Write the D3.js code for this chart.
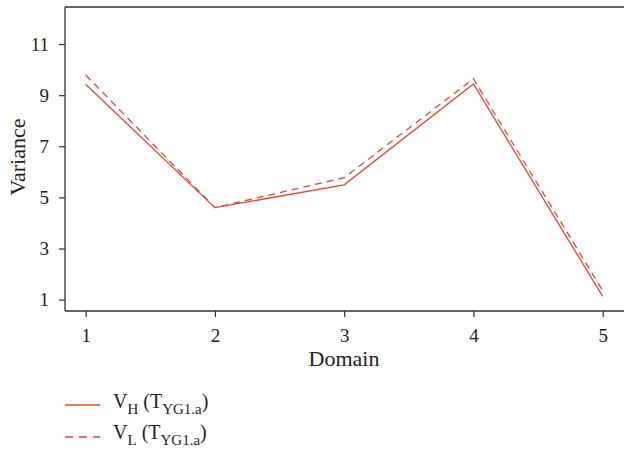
<!DOCTYPE html>
<html><head><meta charset="utf-8">
<script src="https://cdn.jsdelivr.net/npm/d3@7"></script>
<style>
html,body{margin:0;padding:0;background:#fff;}
text{font-family:"Liberation Serif","Times New Roman",serif;fill:#222;}
</style></head>
<body><svg id="c" width="624" height="451"></svg>
<script>
const domains = [1, 2, 3, 4, 5];
const vH = [9.43, 4.6, 5.49, 9.44, 1.13];
const vL = [9.79, 4.6, 5.77, 9.64, 1.35];
const yTicks = [1, 3, 5, 7, 9, 11];
const xTicks = [1, 2, 3, 4, 5];
const color = "#e8452e";

const svg = d3.select("#c");
const W = 624, H = 451;
const m = {left: 65, top: 7, right: 0, bottom: 140};
const x = d3.scaleLinear().domain([0.84, 5.165]).range([m.left, W - m.right]);
const y = d3.scaleLinear().domain([0.555, 12.45]).range([H - m.bottom, m.top]);

// top border
svg.append("line").attr("x1", m.left).attr("x2", W).attr("y1", m.top).attr("y2", m.top)
  .attr("stroke", "#333").attr("stroke-width", 1.3);

const xa = svg.append("g").attr("transform", `translate(0,${H - m.bottom})`)
  .call(d3.axisBottom(x).tickValues(xTicks).tickFormat(d3.format("d")).tickSizeOuter(0).tickSize(6).tickPadding(12));
const ya = svg.append("g").attr("transform", `translate(${m.left},0)`)
  .call(d3.axisLeft(y).tickValues(yTicks).tickFormat(d3.format("d")).tickSizeOuter(0).tickSize(6).tickPadding(10));
[xa, ya].forEach(g => {
  g.select(".domain").attr("stroke", "#333").attr("stroke-width", 1.3);
  g.selectAll(".tick line").attr("stroke", "#333").attr("stroke-width", 1.2);
  g.selectAll("text").attr("font-size", 19).attr("font-family", "Liberation Serif").attr("fill", "#222");
});
xa.select(".domain").attr("d", `M${m.left},0H${W}`);
ya.select(".domain").attr("d", `M0,${m.top}V${H - m.bottom}`);

const line = d3.line().x((d, i) => x(domains[i])).y(d => y(d));
svg.append("path").datum(vH).attr("d", line).attr("fill", "none")
  .attr("stroke", color).attr("stroke-width", 1.3);
svg.append("path").datum(vL).attr("d", line).attr("fill", "none")
  .attr("stroke", color).attr("stroke-width", 1.3).attr("stroke-dasharray", "7,5");

svg.append("text").attr("x", 344).attr("y", 366).attr("text-anchor", "middle")
  .attr("font-size", 22).text("Domain");
svg.append("text").attr("transform", "translate(25,157) rotate(-90)").attr("text-anchor", "middle")
  .attr("font-size", 22).text("Variance");

// legend
const leg = [{sub: "H", dash: null, y: 405, base: 408}, {sub: "L", dash: "8,6", y: 437, base: 439}];
leg.forEach(l => {
  svg.append("line").attr("x1", 65).attr("x2", 100).attr("y1", l.y).attr("y2", l.y)
    .attr("stroke", color).attr("stroke-width", 1.3).attr("stroke-dasharray", l.dash);
  const t = svg.append("text").attr("x", 113).attr("y", l.base).attr("font-size", 20);
  t.append("tspan").text("V");
  t.append("tspan").attr("font-size", 15).attr("dy", 6).text(l.sub);
  t.append("tspan").attr("dy", -6).text(" (T");
  t.append("tspan").attr("font-size", 15).attr("dy", 6).text("YG1.a");
  t.append("tspan").attr("dy", -6).text(")");
});
</script></body></html>
